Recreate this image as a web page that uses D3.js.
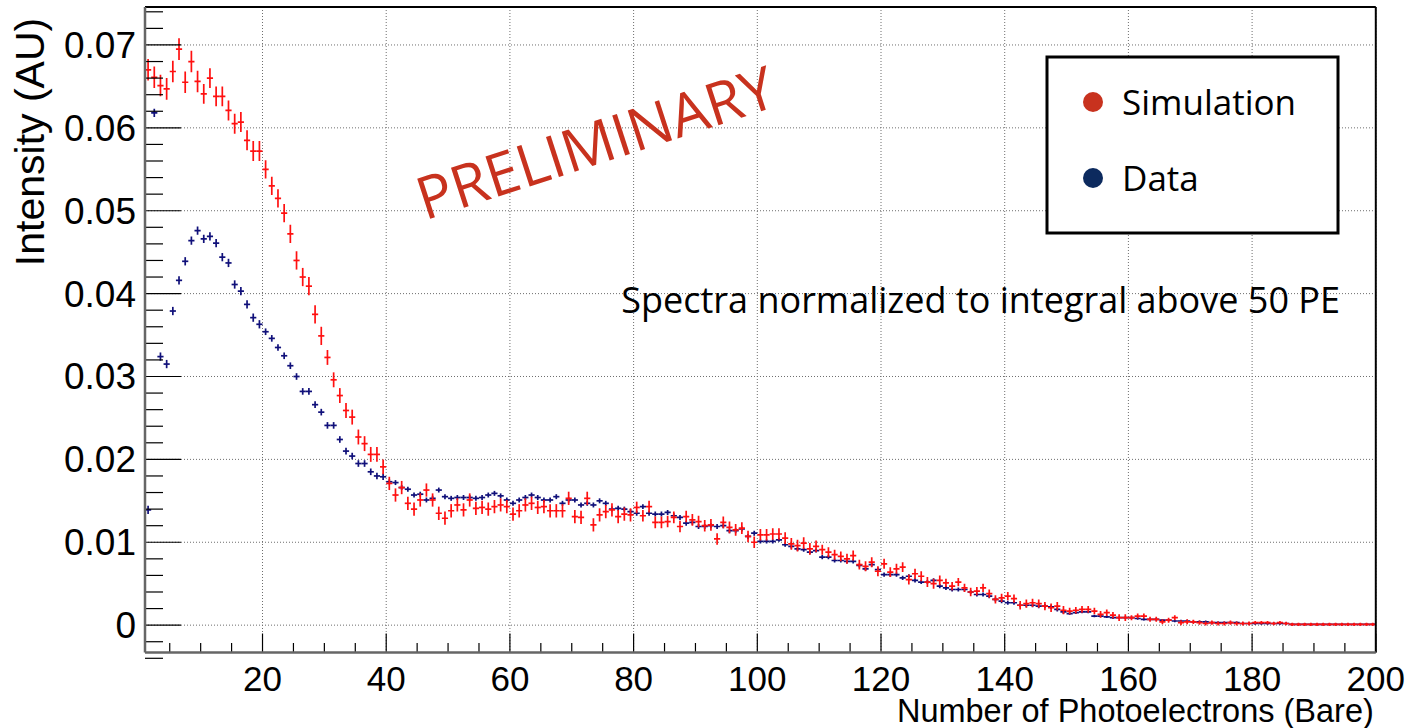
<!DOCTYPE html>
<html>
<head>
<meta charset="utf-8">
<script src="https://cdn.jsdelivr.net/npm/d3@7"></script>
<style>
  html, body { margin: 0; padding: 0; background: #fff; }
  svg { display: block; }
</style>
</head>
<body>
<svg id="chart" width="1411" height="728"></svg>
<script>
// ---------------- data ----------------
const binLow = 1;          // first bin low edge shown on axis
const binWidth = 1;        // PE per bin
// Simulation (red), bins centred at 1.5, 2.5, ... 199.5
const simValues = [
  0.0670,0.0661,0.0651,0.0647,0.0668,0.0695,0.0655,0.0680,0.0656,0.0641,
  0.0660,0.0638,0.0638,0.0621,0.0605,0.0607,0.0585,0.0572,0.0572,0.0550,
  0.0530,0.0515,0.0497,0.0472,0.0440,0.0420,0.0409,0.0375,0.0349,0.0323,
  0.0296,0.0277,0.0259,0.0251,0.0227,0.0219,0.0206,0.0206,0.0191,0.0171,
  0.0157,0.0166,0.0147,0.0140,0.0151,0.0163,0.0151,0.0135,0.0129,0.0138,
  0.0145,0.0139,0.0151,0.0141,0.0142,0.0140,0.0143,0.0145,0.0143,0.0134,
  0.0138,0.0145,0.0147,0.0142,0.0143,0.0138,0.0138,0.0138,0.0153,0.0131,
  0.0130,0.0153,0.0121,0.0133,0.0137,0.0139,0.0131,0.0134,0.0133,0.0142,
  0.0132,0.0143,0.0124,0.0124,0.0125,0.0130,0.0119,0.0131,0.0127,0.0125,
  0.0120,0.0121,0.0104,0.0124,0.0118,0.0115,0.0117,0.0107,0.0100,0.0109,
  0.0109,0.0110,0.0110,0.0105,0.0098,0.0096,0.0099,0.0092,0.0095,0.0091,
  0.0088,0.0085,0.0083,0.0080,0.0084,0.0073,0.0071,0.0076,0.0065,0.0074,
  0.0064,0.0068,0.0070,0.0055,0.0062,0.0059,0.0052,0.0050,0.0054,0.0051,
  0.0047,0.0052,0.0045,0.0040,0.0041,0.0045,0.0038,0.0031,0.0033,0.0035,
  0.0032,0.0024,0.0026,0.0027,0.0026,0.0023,0.0021,0.0023,0.0018,0.0017,
  0.0018,0.0019,0.0019,0.0017,0.0013,0.0015,0.0012,0.0009,0.0009,0.0009,
  0.0011,0.0011,0.0007,0.0007,0.0004,0.0006,0.0009,0.0003,0.0004,0.0004,
  0.0003,0.0002,0.0003,0.0002,0.0002,0.0003,0.0002,0.0002,0.0002,0.0003,
  0.0003,0.0003,0.0002,0.0003,0.0002,0.0001,0.0001,0.0001,0.0001,0.0001,
  0.0001,0.0001,0.0001,0.0001,0.0001,0.0001,0.0001,0.0001,0.0001
];
// Data (navy)
const dataValues = [
  0.0139,0.0618,0.0324,0.0315,0.0379,0.0416,0.0439,0.0464,0.0476,0.0466,
  0.0469,0.0461,0.0444,0.0437,0.0411,0.0403,0.0387,0.0371,0.0363,0.0354,
  0.0346,0.0335,0.0325,0.0313,0.0300,0.0282,0.0282,0.0266,0.0257,0.0241,
  0.0241,0.0224,0.0210,0.0204,0.0195,0.0195,0.0185,0.0180,0.0179,0.0173,
  0.0172,0.0166,0.0164,0.0157,0.0158,0.0151,0.0153,0.0163,0.0155,0.0153,
  0.0154,0.0154,0.0154,0.0153,0.0154,0.0157,0.0159,0.0156,0.0151,0.0147,
  0.0151,0.0154,0.0157,0.0154,0.0151,0.0151,0.0155,0.0147,0.0151,0.0151,
  0.0145,0.0147,0.0145,0.0150,0.0147,0.0140,0.0141,0.0140,0.0137,0.0135,
  0.0143,0.0135,0.0134,0.0134,0.0136,0.0132,0.0130,0.0123,0.0124,0.0119,
  0.0119,0.0120,0.0119,0.0120,0.0114,0.0114,0.0116,0.0107,0.0111,0.0101,
  0.0101,0.0101,0.0103,0.0097,0.0095,0.0092,0.0091,0.0088,0.0090,0.0082,
  0.0082,0.0078,0.0078,0.0077,0.0077,0.0072,0.0068,0.0073,0.0067,0.0061,
  0.0061,0.0061,0.0057,0.0059,0.0054,0.0052,0.0052,0.0054,0.0047,0.0045,
  0.0043,0.0043,0.0043,0.0040,0.0037,0.0037,0.0035,0.0031,0.0029,0.0027,
  0.0027,0.0024,0.0024,0.0024,0.0023,0.0023,0.0022,0.0019,0.0016,0.0014,
  0.0015,0.0016,0.0016,0.0011,0.0011,0.0010,0.0009,0.0009,0.0009,0.0009,
  0.0008,0.0007,0.0007,0.0007,0.0006,0.0006,0.0005,0.0005,0.0005,0.0004,
  0.0004,0.0004,0.0003,0.0003,0.0003,0.0003,0.0003,0.0002,0.0002,0.0002,
  0.0002,0.0002,0.0002,0.0002,0.0002,0.0001,0.0001,0.0001,0.0001,0.0001,
  0.0001,0.0001,0.0001,0.0001,0.0001,0.0001,0.0001,0.0001,0.0001
];
// vertical error half-size, read per 10-PE segment (0-10, 10-20, ... 190-200)
const simErrBySegment  = [0.0013,0.0012,0.0011,0.0009,0.0008,0.0008,0.0008,0.0008,0.0007,0.0007,
                          0.0007,0.0006,0.0006,0.0005,0.0005,0.0004,0.0003,0.00025,0.0002,0.0002];
const dataErrBySegment = [0.0005,0.0005,0.0004,0.0004,0.0003,0.0003,0.0003,0.0003,0.0003,0.0003,
                          0.00025,0.00025,0.00025,0.00025,0.00025,0.00015,0.00015,0.00015,0.00015,0.00015];
const xTickValues = [20,40,60,80,100,120,140,160,180,200];
const yTickValues = [0,0.01,0.02,0.03,0.04,0.05,0.06,0.07];
const yTickLabels = ["0","0.01","0.02","0.03","0.04","0.05","0.06","0.07"];
const legendItems = ["Simulation","Data"];
const xTitle = "Number of Photoelectrons (Bare)";
const yTitle = "Intensity (AU)";
const note = "Spectra normalized to integral above 50 PE";
const watermark = "PRELIMINARY";

// ---------------- layout ----------------
const svg = d3.select("#chart");
const L = 145, R = 1375.8, T = 7, B = 652.5;
const x = d3.scaleLinear().domain([1, 200]).range([L, R]);
const y = d3.scaleLinear().domain([-0.0033, 0.07458]).range([B, T]);

const simColor = "#ff1010", dataColor = "#10107a";
const legSimColor = "#c8321e", legDataColor = "#0c2a5e";

const centers = simValues.map((_, i) => binLow + binWidth * (i + 0.5));

// grid
const grid = svg.append("g");
grid.selectAll("line.gx").data(xTickValues).join("line")
  .attr("x1", d => x(d)).attr("x2", d => x(d)).attr("y1", T).attr("y2", B)
  .attr("stroke", "#6e6e6e").attr("stroke-width", 1).attr("stroke-dasharray", "1,2");
grid.selectAll("line.gy").data(yTickValues).join("line")
  .attr("x1", L).attr("x2", R).attr("y1", d => y(d)).attr("y2", d => y(d))
  .attr("stroke", "#6e6e6e").attr("stroke-width", 1).attr("stroke-dasharray", "1,2");

// clip
svg.append("clipPath").attr("id", "plotclip").append("rect")
  .attr("x", L).attr("y", T).attr("width", R - L).attr("height", B - T);

function drawSeries(values, errs, color, cls) {
  const g = svg.append("g").attr("clip-path", "url(#plotclip)");
  const pts = values.map((v, i) => ({ c: centers[i], v, e: errs[Math.min(19, Math.floor(centers[i] / 10))] }));
  g.selectAll("line.h" + cls).data(pts).join("line")
    .attr("x1", d => x(d.c - binWidth / 2)).attr("x2", d => x(d.c + binWidth / 2))
    .attr("y1", d => y(d.v)).attr("y2", d => y(d.v))
    .attr("stroke", color).attr("stroke-width", 1.7);
  g.selectAll("line.v" + cls).data(pts).join("line")
    .attr("x1", d => x(d.c)).attr("x2", d => x(d.c))
    .attr("y1", d => y(d.v - d.e)).attr("y2", d => y(d.v + d.e))
    .attr("stroke", color).attr("stroke-width", 1.7);
}
drawSeries(dataValues, dataErrBySegment, dataColor, "d");
drawSeries(simValues, simErrBySegment, simColor, "s");

// frame / axes
const axG = svg.append("g");
const xMinor = d3.range(5, 200, 5).filter(v => v % 20 !== 0);
axG.selectAll("line.xM").data(xTickValues).join("line")
  .attr("x1", d => x(d)).attr("x2", d => x(d)).attr("y1", B).attr("y2", B - 19)
  .attr("stroke", "#000").attr("stroke-width", 1.2);
axG.selectAll("line.xm").data(xMinor).join("line")
  .attr("x1", d => x(d)).attr("x2", d => x(d)).attr("y1", B).attr("y2", B - 9.5)
  .attr("stroke", "#000").attr("stroke-width", 1.2);
const yMinor = d3.range(-2, 38).map(k => k * 0.002).filter(v => Math.abs(v / 0.01 - Math.round(v / 0.01)) > 1e-6);
axG.selectAll("line.yM").data(yTickValues).join("line")
  .attr("x1", L).attr("x2", L + 36).attr("y1", d => y(d)).attr("y2", d => y(d))
  .attr("stroke", "#000").attr("stroke-width", 1.2);
axG.selectAll("line.ym").data(yMinor).join("line")
  .attr("x1", L).attr("x2", L + 18).attr("y1", d => y(d)).attr("y2", d => y(d))
  .attr("stroke", "#000").attr("stroke-width", 1.2);

axG.append("line").attr("x1", L).attr("x2", R).attr("y1", T).attr("y2", T).attr("stroke", "#000").attr("stroke-width", 2);
axG.append("line").attr("x1", R).attr("x2", R).attr("y1", T).attr("y2", B).attr("stroke", "#000").attr("stroke-width", 2);
axG.append("line").attr("x1", L).attr("x2", L).attr("y1", T).attr("y2", B).attr("stroke", "#666").attr("stroke-width", 2.5);
axG.append("line").attr("x1", L).attr("x2", R).attr("y1", B).attr("y2", B).attr("stroke", "#666").attr("stroke-width", 2.5);

// tick labels
const tickFont = "'Liberation Sans', Arial, sans-serif";
svg.append("g").selectAll("text").data(xTickValues).join("text")
  .attr("x", d => x(d)).attr("y", 691)
  .attr("text-anchor", "middle").attr("font-family", tickFont).attr("font-size", 35)
  .text(d => d);
svg.append("g").selectAll("text").data(yTickValues).join("text")
  .attr("x", 136).attr("y", d => y(d) + 13)
  .attr("text-anchor", "end").attr("font-family", tickFont).attr("font-size", 37)
  .text((d, i) => yTickLabels[i]);

// axis titles
svg.append("text").attr("x", R - 2).attr("y", 722).attr("text-anchor", "end")
  .attr("font-family", tickFont).attr("font-size", 32.5).text(xTitle);
svg.append("text").attr("transform", "translate(44,142) rotate(-90)").attr("text-anchor", "middle")
  .attr("font-family", tickFont).attr("font-size", 41).text(yTitle);

// annotations
const noteFont = "'Open Sans', 'Noto Sans', sans-serif";
svg.append("text").attr("x", 1340).attr("y", 313).attr("text-anchor", "end")
  .attr("font-family", noteFont).attr("font-size", 36).attr("fill", "#000").text(note);
svg.append("text").attr("transform", "translate(597,148) rotate(-18)").attr("text-anchor", "middle")
  .attr("dominant-baseline", "middle")
  .attr("font-family", noteFont).attr("font-size", 59).attr("fill", legSimColor).text(watermark);

// legend
const lg = svg.append("g");
lg.append("rect").attr("x", 1047).attr("y", 57).attr("width", 291).attr("height", 176)
  .attr("fill", "#fff").attr("stroke", "#000").attr("stroke-width", 3);
const legColors = [legSimColor, legDataColor];
lg.selectAll("circle").data(legendItems).join("circle")
  .attr("cx", 1093).attr("cy", (d, i) => 102 + i * 76).attr("r", 10)
  .attr("fill", (d, i) => legColors[i]);
lg.selectAll("text").data(legendItems).join("text")
  .attr("x", 1122).attr("y", (d, i) => 115 + i * 76)
  .attr("font-family", noteFont).attr("font-size", 35).text(d => d);
</script>
</body>
</html>
